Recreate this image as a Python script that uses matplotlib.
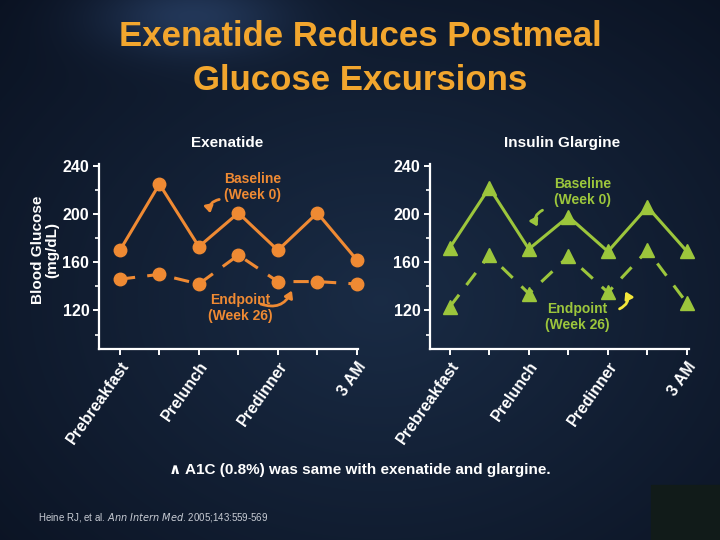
import matplotlib
matplotlib.use("Agg")
import matplotlib.pyplot as plt
from matplotlib.patches import FancyArrowPatch, Rectangle
import numpy as np

# data (mg/dL)
timepoints = ["t1", "t2", "t3", "t4", "t5", "t6", "t7"]
tick_labels = ["Prebreakfast", "", "Prelunch", "", "Predinner", "", "3 AM"]
exe_baseline = [170, 225, 173, 201, 170, 201, 162]
exe_endpoint = [146, 150, 142, 166, 144, 144, 142]
gla_baseline = [172, 222, 171, 198, 169, 206, 169]
gla_endpoint = [123, 166, 134, 165, 135, 170, 126]

W, H = 720, 540
ORANGE = "#ef8a33"
GREEN = "#9cc63c"
GOLD = "#f2a62e"
YELLOW = "#f2e63a"

def fx(px):
    return px / W

def fy(py):
    return 1 - py / H

plt.rcParams['font.family'] = ['Liberation Sans', 'DejaVu Sans']
fig = plt.figure(figsize=(7.2, 5.4), dpi=100)

# background gradient
bg = fig.add_axes([0, 0, 1, 1], zorder=-10)
yy, xx = np.mgrid[0:H, 0:W]
d = np.sqrt(((xx - 380) / 420.0) ** 2 + ((yy - 300) / 330.0) ** 2)
glow = np.exp(-((xx - 190) ** 2) / 9000.0 - ((yy - 15) ** 2) / 1500.0)
t = np.clip(d, 0, 1.3) / 1.3
c_in = np.array([0.10, 0.17, 0.27])
c_out = np.array([0.04, 0.07, 0.13])
img = c_in[None, None, :] * (1 - t[..., None]) + c_out[None, None, :] * t[..., None]
img = img + glow[..., None] * np.array([0.08, 0.12, 0.18])
bg.imshow(np.clip(img, 0, 1), aspect='auto', extent=[0, 1, 0, 1])
bg.add_patch(Rectangle((fx(651), 0), 1 - fx(651), fy(485), color="#111b19"))
bg.set_axis_off()

fig.text(0.5, fy(36), "Exenatide Reduces Postmeal", ha='center', va='center',
         color=GOLD, fontsize=25, fontweight='bold')
fig.text(0.5, fy(81), "Glucose Excursions", ha='center', va='center',
         color=GOLD, fontsize=25, fontweight='bold')


def panel(left, right, xlim, base, endp, color, marker, ms, title, tx):
    ax = fig.add_axes([fx(left), fy(349), fx(right - left), fy(163.6) - fy(349)])
    ax.patch.set_alpha(0)
    x = np.arange(len(timepoints))
    ax.plot(x, base, color=color, lw=2.2, marker=marker, ms=ms, zorder=3,
            clip_on=False)
    ax.plot(x, endp, color=color, lw=2.2, marker=marker, ms=ms,
            dashes=(5, 4), zorder=3, clip_on=False)
    ax.set_xlim(*xlim)
    ax.set_ylim(88, 242)
    ax.set_yticks([120, 160, 200, 240])
    ax.set_yticks([100, 140, 180, 220], minor=True)
    ax.set_xticks(x)
    ax.set_xticklabels(tick_labels, rotation=55, ha='right',
                       rotation_mode='anchor')
    for s in ["top", "right"]:
        ax.spines[s].set_visible(False)
    for s in ["left", "bottom"]:
        ax.spines[s].set_color("white")
        ax.spines[s].set_linewidth(1.6)
    ax.tick_params(colors="white", width=1.4, length=4, labelsize=11.5,
                   pad=3)
    ax.tick_params(which='minor', colors="white", width=1.2, length=3)
    for lab in ax.get_xticklabels() + ax.get_yticklabels():
        lab.set_fontweight('bold')
    fig.text(fx(tx), fy(143), title, ha='center', va='center', color='white',
             fontsize=11, fontweight='bold')
    return ax


panel(99, 358, (-0.53, 6.03), exe_baseline, exe_endpoint, ORANGE, 'o', 9,
      "Exenatide", 227)
panel(430, 689, (-0.5, 6.05), gla_baseline, gla_endpoint, GREEN, '^', 10,
      "Insulin Glargine", 562)

fig.text(fx(45), fy(250), "Blood Glucose\n(mg/dL)", rotation=90, ha='center',
         va='center', color='white', fontsize=11, fontweight='bold',
         linespacing=1.0)


def label(x, y, s, color):
    fig.text(fx(x), fy(y), s, ha='center', va='center', color=color,
             fontsize=10, fontweight='bold', linespacing=1.1)


def arrow(p0, p1, color, rad):
    a = FancyArrowPatch((fx(p0[0]), fy(p0[1])), (fx(p1[0]), fy(p1[1])),
                        transform=fig.transFigure, connectionstyle=f"arc3,rad={rad}",
                        arrowstyle="-|>,head_length=4,head_width=2.5",
                        color=color, lw=2)
    fig.patches.append(a)


label(253, 187, "Baseline\n(Week 0)", ORANGE)
arrow((222, 199), (211, 216), ORANGE, 0.6)
label(240, 308, "Endpoint\n(Week 26)", ORANGE)
arrow((258, 303), (293, 288), ORANGE, 0.5)

label(583, 192, "Baseline\n(Week 0)", GREEN)
arrow((545, 209), (539, 229), GREEN, 0.6)
label(577, 317, "Endpoint\n(Week 26)", GREEN)
arrow((617, 310), (624, 289), YELLOW, 0.6)

fig.text(0.5, fy(470), "\u2227 A1C (0.8%) was same with exenatide and glargine.",
         ha='center', va='center', color='white', fontsize=11, fontweight='bold')
fig.text(fx(38), fy(517), "Heine RJ, et al. $\\it{Ann\\ Intern\\ Med}$. 2005;143:559-569",
         ha='left', va='center', color='#c8ccd4', fontsize=7)

fig.savefig("out.png", dpi=100)
